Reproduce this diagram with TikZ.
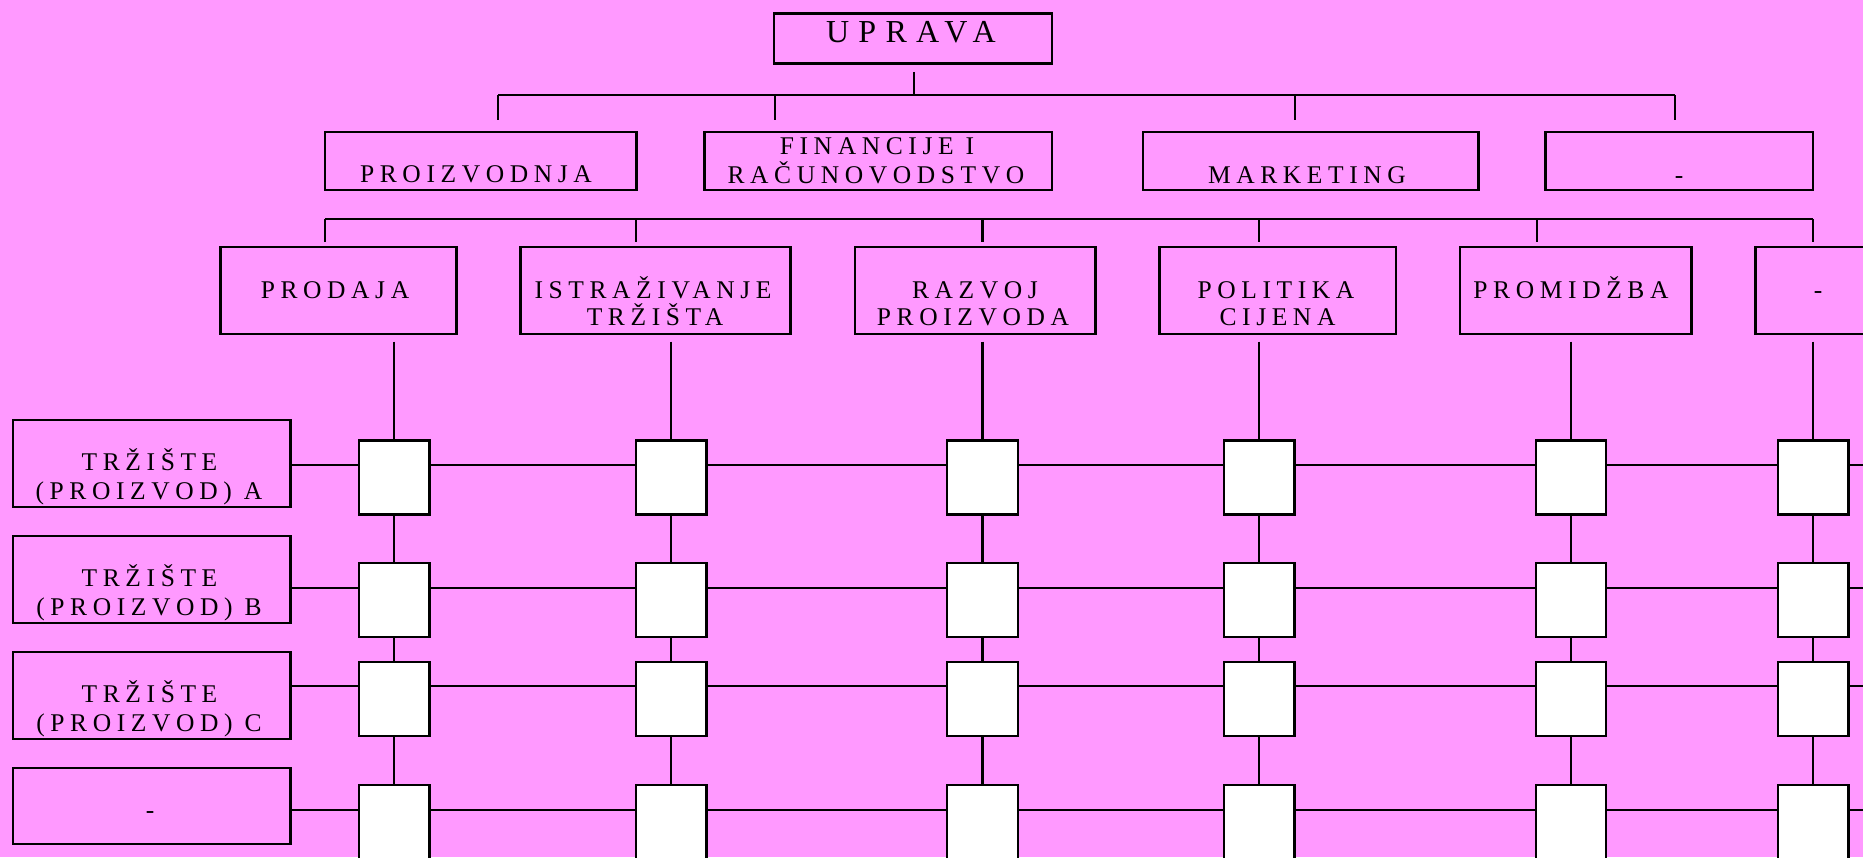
\documentclass[tikz,border=0pt]{standalone}
\usepackage{fontspec}
\setmainfont{Liberation Serif}
\newfontfamily\spacedfont[LetterSpace=22]{Liberation Serif}
\newfontfamily\bigspacedfont[LetterSpace=29]{Liberation Serif}
\usetikzlibrary{calc}
\definecolor{bgpink}{RGB}{255,153,255}
\begin{document}
\begin{tikzpicture}[x=1pt,y=-1pt,
  box/.style={draw=black, line width=2.4pt, inner sep=0pt, rectangle},
  cell/.style={draw=black, line width=2.4pt, fill=white, inner sep=0pt, minimum width=70.5pt, minimum height=74pt},
  link/.style={draw=black, line width=2.1pt},
  lbl/.style={font=\spacedfont\fontsize{25.5}{29}\selectfont, anchor=base, inner sep=0pt, xshift=-2pt},
  biglbl/.style={font=\bigspacedfont\fontsize{32}{36}\selectfont, anchor=base, inner sep=0pt}]
\fill[bgpink] (0,0) rectangle (1863,857);
\useasboundingbox (0,0) rectangle (1863,857);
\clip (0,0) rectangle (1863,857);

% top
\node[box, minimum width=278pt, minimum height=50pt] (upr) at (913,38.3) {};
\node[biglbl] (uprT) at (911,42.7) {UPRAVA};

% level 2
\foreach \n/\cx/\w in {proiz/480.65/311.3, fin/878.15/347.7, mkt/1310.55/335.5, dtwo/1679.2/267.8}
  \node[box, minimum width=\w pt, minimum height=58pt] (\n) at (\cx,160.7) {};
\node[lbl] (proizT) at (478,182.7) {PROIZVODNJA};
\node[lbl] (finT1) at (879,154) {FINANCIJE I};
\node[lbl] (finT2) at (878,183) {RAČUNOVODSTVO};
\node[lbl] (mktT) at (1309,183) {MARKETING};
\node[lbl] (dtwoT) at (1681,183) {-};

% level 3
\foreach \n/\cx/\w in {prod/338.3/236, istr/655.4/270.2, razv/975/240.6, poli/1277.55/236.3, prom/1575.65/231.3, dthree/1818.15/125.7}
  \node[box, minimum width=\w pt, minimum height=87pt] (\n) at (\cx,290.5) {};
\node[lbl] (prodT) at (337,298.3) {PRODAJA};
\node[lbl] (istrT1) at (655,298.3) {ISTRAŽIVANJE};
\node[lbl] (istrT2) at (657,325.5) {TRŽIŠTA};
\node[lbl] (razvT1) at (977,298.3) {RAZVOJ};
\node[lbl] (razvT2) at (975,325.5) {PROIZVODA};
\node[lbl] (poliT1) at (1278,298.3) {POLITIKA};
\node[lbl] (poliT2) at (1279.5,325.5) {CIJENA};
\node[lbl] (promT) at (1573,298.3) {PROMIDŽBA};
\node[lbl] (dthreeT) at (1820,298.3) {-};

% markets
\node[box, minimum width=277.6pt, minimum height=86.7pt] (mA) at (151.7,463.35) {};
\node[box, minimum width=277.6pt, minimum height=86.7pt] (mB) at (151.7,579.35) {};
\node[box, minimum width=277.6pt, minimum height=86.7pt] (mC) at (151.7,695.35) {};
\node[box, minimum width=277.6pt, minimum height=76pt] (mD) at (151.7,806) {};
\node[lbl] (mAT1) at (151.5,470.7) {TRŽIŠTE};
\node[lbl] (mAT2) at (151,499) {(PROIZVOD) A};
\node[lbl] (mBT1) at (151.5,586.7) {TRŽIŠTE};
\node[lbl] (mBT2) at (151,615) {(PROIZVOD) B};
\node[lbl] (mCT1) at (151.5,702.7) {TRŽIŠTE};
\node[lbl] (mCT2) at (151,731) {(PROIZVOD) C};
\node[lbl] (mDT) at (152,818.7) {-};

% connectors: top tree
\coordinate (j0) at (913.6,95);
\draw[link] ($(upr.south)+(0.6,7.4)$) -- (j0);
\coordinate (b1l) at (498,95);
\coordinate (b1r) at (1674.8,95);
\draw[link] (b1l) -- (b1r);
\coordinate (d1) at (498,95);
\coordinate (d2) at (774.7,95);
\coordinate (d3) at (1294.8,95);
\coordinate (d4) at (1674.8,95);
\draw[link] (d1) -- ($(d1 |- proiz.north)+(0,-10.7)$);
\draw[link] (d2) -- ($(d2 |- fin.north)+(0,-10.7)$);
\draw[link] (d3) -- ($(d3 |- mkt.north)+(0,-10.7)$);
\draw[link] (d4) -- ($(d4 |- dtwo.north)+(0,-10.7)$);

% second bus
\coordinate (b2l) at (325,219);
\coordinate (b2r) at (1813.3,219);
\draw[link] (b2l) -- (b2r);
\coordinate (e1) at (325,219);
\coordinate (e2) at (636.3,219);
\coordinate (e3) at (982.5,219);
\coordinate (e4) at (1259.2,219);
\coordinate (e5) at (1536.7,219);
\coordinate (e6) at (1813.3,219);
\draw[link] (e1) -- ($(e1 |- prod.north)+(0,-3.7)$);
\draw[link] (e2) -- ($(e2 |- istr.north)+(0,-3.7)$);
\draw[link] (e3) -- ($(e3 |- razv.north)+(0,-3.7)$);
\draw[link] (e4) -- ($(e4 |- poli.north)+(0,-3.7)$);
\draw[link] (e5) -- ($(e5 |- prom.north)+(0,-3.7)$);
\draw[link] (e6) -- ($(e6 |- dthree.north)+(0,-3.7)$);

% row lines
\foreach \r/\y in {A/465.3, B/588.3, C/686.3, D/809.7} {
  \coordinate (r\r) at (1863,\y);
  \draw[link] (m\r.east |- r\r) -- (r\r);
}

% cells
\foreach \c/\x in {1/394.3, 2/671.3, 3/982.5, 4/1259.4, 5/1571, 6/1813.3} {
  \node[cell] (cA\c) at (\x,477.3) {};
  \node[cell] (cB\c) at (\x,600) {};
  \node[cell] (cC\c) at (\x,699) {};
  \node[cell] (cD\c) at (\x,822) {};
  \coordinate (t\c) at (\x,341.7);
  \draw[link] (t\c) -- (cA\c) -- (cB\c) -- (cC\c) -- (cD\c);
}
\end{tikzpicture}
\end{document}
